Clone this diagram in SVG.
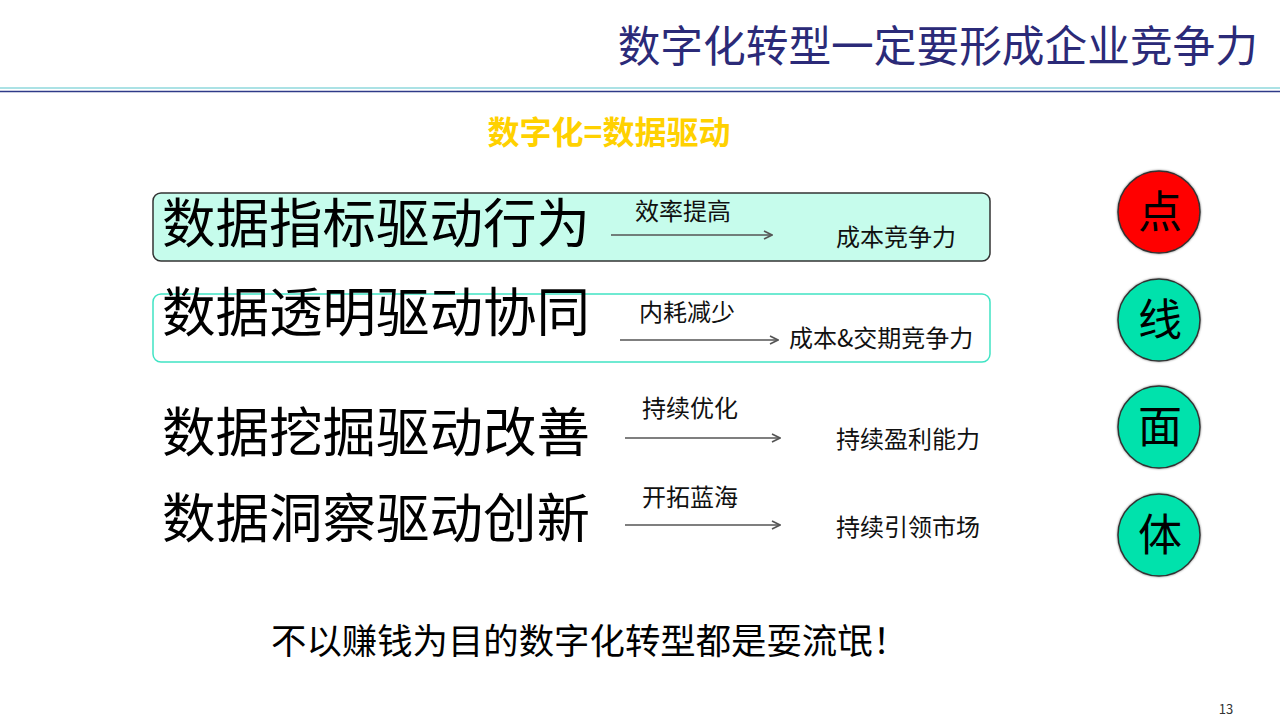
<svg xmlns="http://www.w3.org/2000/svg" width="1280" height="720" viewBox="0 0 1280 720">
<defs>
<marker id="arr" viewBox="0 0 10 10" refX="9" refY="5" markerWidth="10" markerHeight="10" markerUnits="userSpaceOnUse" orient="auto">
<path d="M1,1 L9,5 L1,9" fill="none" stroke="#555" stroke-width="1.6"/>
</marker>
<filter id="sh" x="-20%" y="-20%" width="140%" height="140%">
<feDropShadow dx="0" dy="0" stdDeviation="1.2" flood-color="#000" flood-opacity="0.5"/>
</filter>
</defs>
<style>
text{font-family:"Noto Sans CJK SC","Noto Sans",sans-serif;}
.big{font-size:53.5px;fill:#000;}
.sm{font-size:24px;fill:#111;}
.arrow{stroke:#555;stroke-width:1.6;fill:none;marker-end:url(#arr);}
.circ{stroke:#333;stroke-width:1.5;filter:url(#sh);}
.ct{font-size:44px;fill:#000;text-anchor:middle;}
</style>
<rect width="1280" height="720" fill="#fff"/>
<g id="header">
<text x="1258" y="62" font-size="42.7" fill="#2b2a78" text-anchor="end">数字化转型一定要形成企业竞争力</text>
<line x1="0" y1="88" x2="1280" y2="88" stroke="#8fd8dc" stroke-width="1.5"/>
<line x1="0" y1="91.5" x2="1280" y2="91.5" stroke="#2e3a88" stroke-width="1.5"/>
</g>
<g id="subtitle">
<text x="609" y="144" font-size="32" font-weight="bold" fill="#ffd100" text-anchor="middle">数字化=数据驱动</text>
</g>
<g id="row1">
<rect x="153" y="193" width="837" height="68" rx="8" fill="#c6fcec" stroke="#333" stroke-width="1.5"/>
<text class="big" x="162" y="243">数据指标驱动行为</text>
<text class="sm" x="635" y="220">效率提高</text>
<text class="sm" x="836" y="246">成本竞争力</text>
</g>
<g id="row2">
<rect x="153" y="294" width="837" height="68" rx="8" fill="#fff" stroke="#40e4c4" stroke-width="1.5"/>
<text class="big" x="162" y="332">数据透明驱动协同</text>
<text class="sm" x="639" y="321">内耗减少</text>
<text class="sm" x="789" y="347">成本&amp;交期竞争力</text>
</g>
<g id="row3">
<text class="big" x="162" y="452">数据挖掘驱动改善</text>
<text class="sm" x="642" y="417">持续优化</text>
<text class="sm" x="836" y="448">持续盈利能力</text>
</g>
<g id="row4">
<text class="big" x="162" y="538">数据洞察驱动创新</text>
<text class="sm" x="642" y="506">开拓蓝海</text>
<text class="sm" x="836" y="536">持续引领市场</text>
</g>
<g id="connectors">
<line class="arrow" x1="611" y1="235" x2="772" y2="235"/>
<line class="arrow" x1="620" y1="340" x2="778" y2="340"/>
<line class="arrow" x1="625" y1="438" x2="780" y2="438"/>
<line class="arrow" x1="625" y1="525" x2="780" y2="525"/>
</g>
<g id="dot">
<circle class="circ" cx="1159" cy="212" r="41" fill="#ff0000"/>
<text class="ct" x="1160" y="228">点</text>
</g>
<g id="line">
<circle class="circ" cx="1159" cy="320" r="41" fill="#00e2ac"/>
<text class="ct" x="1160" y="336">线</text>
</g>
<g id="plane">
<circle class="circ" cx="1159" cy="427" r="41" fill="#00e2ac"/>
<text class="ct" x="1160" y="443">面</text>
</g>
<g id="body">
<circle class="circ" cx="1159" cy="535" r="41" fill="#00e2ac"/>
<text class="ct" x="1160" y="551">体</text>
</g>
<g id="footer">
<text x="271" y="654" font-size="35.4" fill="#000">不以赚钱为目的数字化转型都是耍流氓！</text>
<text x="1226" y="714" font-size="13" fill="#333" text-anchor="middle" font-family="Liberation Sans, sans-serif">13</text>
</g>
</svg>
